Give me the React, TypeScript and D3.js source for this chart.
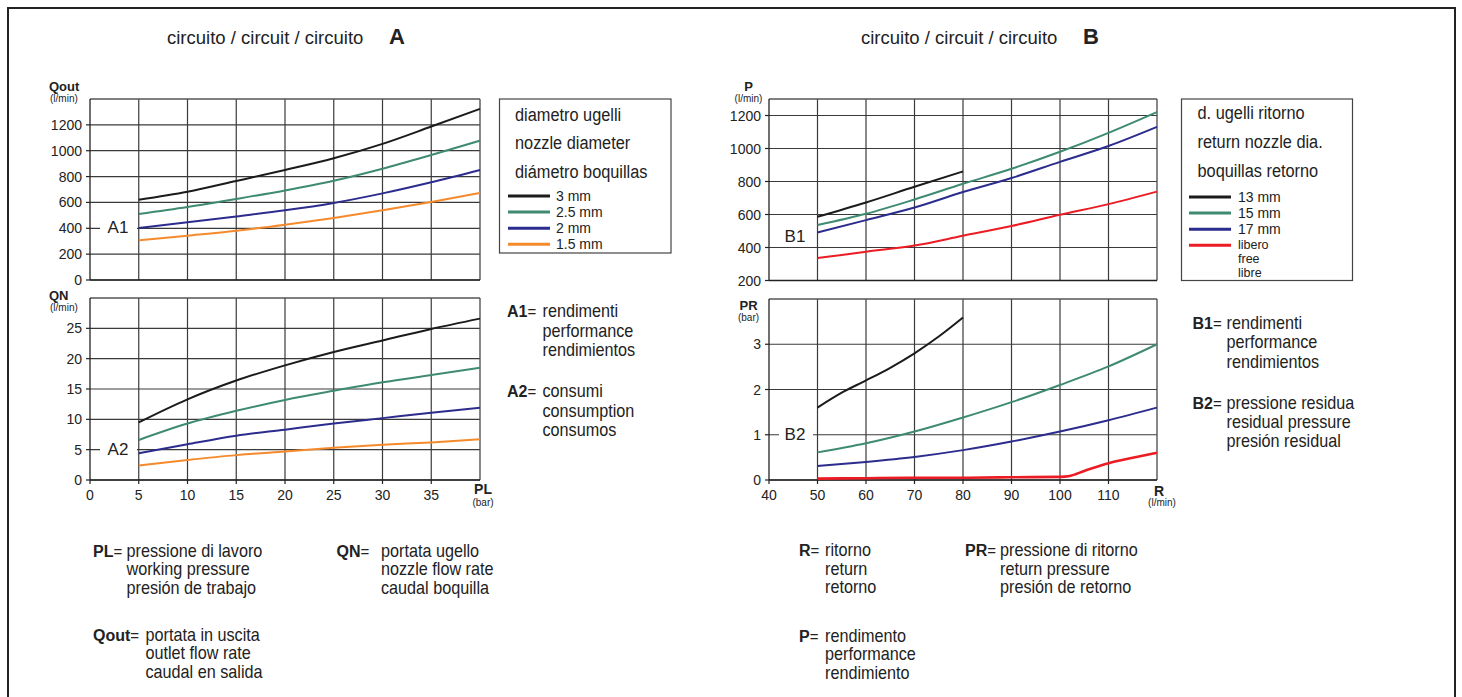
import React from "react";
import * as d3 from "d3";

// ---------- DATA ----------
const plPressure = [5, 10, 15, 20, 25, 30, 35, 40];
const qout3mm = [621, 683, 766, 851, 942, 1053, 1187, 1324];
const qout25mm = [511, 565, 627, 693, 768, 861, 967, 1078];
const qout2mm = [402, 446, 492, 539, 596, 670, 756, 851];
const qout15mm = [307, 343, 381, 428, 480, 539, 604, 673];
const qn3mm = [9.5, 13.3, 16.4, 18.9, 21.1, 23.0, 24.9, 26.6];
const qn25mm = [6.6, 9.3, 11.4, 13.2, 14.7, 16.1, 17.3, 18.5];
const qn2mm = [4.4, 5.9, 7.3, 8.3, 9.3, 10.2, 11.1, 11.9];
const qn15mm = [2.4, 3.3, 4.1, 4.7, 5.3, 5.8, 6.2, 6.7];

const returnFlow = [50, 60, 70, 80, 90, 100, 110, 120];
const returnFlow13 = [50, 60, 70, 80];
const p13mm = [586, 673, 768, 861];
const p15mm = [536, 604, 691, 786, 877, 980, 1095, 1221];
const p17mm = [491, 566, 642, 736, 821, 919, 1015, 1131];
const pFree = [336, 374, 412, 471, 530, 598, 663, 739];
const pr13Flow = [50, 55, 60, 65, 70, 75, 80];
const pr13mm = [1.6, 1.93, 2.2, 2.48, 2.8, 3.17, 3.59];
const pr15mm = [0.61, 0.81, 1.07, 1.38, 1.72, 2.1, 2.51, 3.0];
const pr17mm = [0.31, 0.4, 0.51, 0.66, 0.85, 1.07, 1.32, 1.6];
const prFreeFlow = [50, 60, 70, 80, 90, 100, 102, 105, 110, 115, 120];
const prFree = [0.03, 0.04, 0.05, 0.05, 0.06, 0.07, 0.09, 0.2, 0.37, 0.49, 0.6];

const ticksPL = [0, 5, 10, 15, 20, 25, 30, 35];
const ticksQout = [0, 200, 400, 600, 800, 1000, 1200];
const ticksQN = [0, 5, 10, 15, 20, 25];
const ticksR = [40, 50, 60, 70, 80, 90, 100, 110];
const ticksP = [200, 400, 600, 800, 1000, 1200];
const ticksPR = [0, 1, 2, 3];

const legendATitle = ["diametro ugelli", "nozzle diameter", "diámetro boquillas"];
const legendALabels = ["3 mm", "2.5 mm", "2 mm", "1.5 mm"];
const legendBTitle = ["d. ugelli ritorno", "return nozzle dia.", "boquillas retorno"];
const legendBLabels = ["13 mm", "15 mm", "17 mm", "libero"];
const legendBExtra = ["free", "libre"];

const descA1 = ["rendimenti", "performance", "rendimientos"];
const descA2 = ["consumi", "consumption", "consumos"];
const descB1 = ["rendimenti", "performance", "rendimientos"];
const descB2 = ["pressione residua", "residual pressure", "presión residual"];
const descPL = ["pressione di lavoro", "working pressure", "presión de trabajo"];
const descQN = ["portata ugello", "nozzle flow rate", "caudal boquilla"];
const descQout = ["portata in uscita", "outlet flow rate", "caudal en salida"];
const descR = ["ritorno", "return", "retorno"];
const descPR = ["pressione di ritorno", "return pressure", "presión de retorno"];
const descP = ["rendimento", "performance", "rendimiento"];

// ---------- STYLE ----------
const SANS = "'Liberation Sans', Arial, Helvetica, sans-serif";
const C_BLACK = "#1b1b1b";
const C_GREEN = "#3e8a72";
const C_BLUE = "#2b2c8e";
const C_ORANGE = "#f58a2c";
const C_RED = "#ec1c24";
const colorsA = [C_BLACK, C_GREEN, C_BLUE, C_ORANGE];
const colorsB = [C_BLACK, C_GREEN, C_BLUE, C_RED];
const GRID = "#3a3a3a";

type Series = { xs: number[]; ys: number[]; color: string; width?: number };

function NText(props: { x: number; y: number; size: number; scale?: number; children: React.ReactNode }) {
  return (
    <text
      transform={`translate(${props.x},${props.y}) scale(${props.scale || 0.9},1)`}
      fontFamily={SANS}
      fontSize={props.size}
      fill="#222"
    >
      {props.children}
    </text>
  );
}

function Panel(props: {
  x: d3.ScaleLinear<number, number>;
  y: d3.ScaleLinear<number, number>;
  xGrid: number[];
  yTicks: number[];
  xTicks?: number[];
  series: Series[];
}) {
  const { x, y, xGrid, yTicks, xTicks, series } = props;
  const [x0, x1] = x.range();
  const [y0, y1] = y.range();
  const line = (s: Series) =>
    d3
      .line<number>()
      .x((_, i) => x(s.xs[i]))
      .y((v) => y(v))
      .curve(d3.curveMonotoneX)(s.ys) || "";
  return (
    <g>
      {yTicks.map((t) => (
        <line key={"h" + t} x1={x0} x2={x1} y1={y(t)} y2={y(t)} stroke={GRID} strokeWidth={1.2} />
      ))}
      {xGrid.map((t) => (
        <line key={"v" + t} x1={x(t)} x2={x(t)} y1={y0} y2={y1} stroke={GRID} strokeWidth={1.2} />
      ))}
      <line x1={x0} x2={x1} y1={y1} y2={y1} stroke="#555" strokeWidth={1.4} />
      <line x1={x1} x2={x1} y1={y0} y2={y1} stroke="#555" strokeWidth={1.4} />
      <line x1={x0} x2={x0} y1={y0} y2={y1} stroke="#222" strokeWidth={1.3} />
      <line x1={x0} x2={x1} y1={y0} y2={y0} stroke="#222" strokeWidth={1.3} />
      {yTicks.map((t) => (
        <g key={"yt" + t}>
          <line x1={x0 - 4} x2={x0} y1={y(t)} y2={y(t)} stroke="#222" strokeWidth={1.2} />
          <text x={x0 - 8} y={y(t) + 5} textAnchor="end" fontFamily={SANS} fontSize={14} fill="#222">
            {t}
          </text>
        </g>
      ))}
      {xTicks &&
        xTicks.map((t) => (
          <g key={"xt" + t}>
            <line x1={x(t)} x2={x(t)} y1={y0} y2={y0 + 4} stroke="#222" strokeWidth={1.2} />
            <text x={x(t)} y={y0 + 19.5} textAnchor="middle" fontFamily={SANS} fontSize={14} fill="#222">
              {t}
            </text>
          </g>
        ))}
      {series.map((s, i) => (
        <path key={"s" + i} d={line(s)} fill="none" stroke={s.color} strokeWidth={s.width || 2} />
      ))}
    </g>
  );
}

function ChartTag(props: { cx: number; cy: number; x0: number; x1: number; label: string }) {
  return (
    <g>
      <rect x={props.x0} y={props.cy - 12} width={props.x1 - props.x0} height={20} fill="#fff" />
      <text x={props.cx} y={props.cy + 5} textAnchor="middle" fontFamily={SANS} fontSize={17} fill="#222">
        {props.label}
      </text>
    </g>
  );
}

function Desc(props: { px: number; tx: number; y: number; key2: string; lines: string[]; gap: number }) {
  return (
    <g>
      <text x={props.px} y={props.y} fontFamily={SANS} fontSize={16} fill="#222">
        <tspan fontWeight="bold">{props.key2}</tspan>
        <tspan fontSize={15}>=</tspan>
      </text>
      {props.lines.map((l, i) => (
        <NText key={i} x={props.tx} y={props.y + i * props.gap} size={18}>
          {l}
        </NText>
      ))}
    </g>
  );
}

export default function App() {
  // Circuit A
  const xA = d3.scaleLinear().domain([0, 40]).range([90, 480]);
  const yA1 = d3.scaleLinear().domain([0, 1400]).range([280, 99]);
  const yA2 = d3.scaleLinear().domain([0, 30]).range([480, 298]);
  // Circuit B
  const xB = d3.scaleLinear().domain([40, 120]).range([769, 1157]);
  const yB1 = d3.scaleLinear().domain([200, 1300]).range([280.5, 99]);
  const yB2 = d3.scaleLinear().domain([0, 4]).range([480, 299]);

  const gridA = [5, 10, 15, 20, 25, 30, 35];
  const gridB = [50, 60, 70, 80, 90, 100, 110];

  const seriesA1: Series[] = [qout3mm, qout25mm, qout2mm, qout15mm].map((ys, i) => ({ xs: plPressure, ys, color: colorsA[i] }));
  const seriesA2: Series[] = [qn3mm, qn25mm, qn2mm, qn15mm].map((ys, i) => ({ xs: plPressure, ys, color: colorsA[i] }));
  const seriesB1: Series[] = [
    { xs: returnFlow13, ys: p13mm, color: C_BLACK },
    { xs: returnFlow, ys: p15mm, color: C_GREEN },
    { xs: returnFlow, ys: p17mm, color: C_BLUE },
    { xs: returnFlow, ys: pFree, color: C_RED },
  ];
  const seriesB2: Series[] = [
    { xs: pr13Flow, ys: pr13mm, color: C_BLACK },
    { xs: returnFlow, ys: pr15mm, color: C_GREEN },
    { xs: returnFlow, ys: pr17mm, color: C_BLUE },
    { xs: prFreeFlow, ys: prFree, color: C_RED, width: 2.6 },
  ];

  return (
    <svg
      width={1462}
      height={697}
      style={{ position: "absolute", left: 0, top: 0, background: "#fff" }}
      xmlns="http://www.w3.org/2000/svg"
    >
      <rect x={0} y={0} width={1462} height={697} fill="#fff" />
      <rect x={8} y={8} width={1447} height={700} fill="none" stroke="#222" strokeWidth={2} />

      {/* Titles */}
      <text x={167} y={44} fontFamily={SANS} fontSize={18.5} fill="#222">circuito / circuit / circuito</text>
      <text x={389} y={44} fontFamily={SANS} fontSize={22} fontWeight="bold" fill="#222">A</text>
      <text x={861} y={44} fontFamily={SANS} fontSize={18.5} fill="#222">circuito / circuit / circuito</text>
      <text x={1083} y={44} fontFamily={SANS} fontSize={22} fontWeight="bold" fill="#222">B</text>

      {/* Circuit A charts */}
      <Panel x={xA} y={yA1} xGrid={gridA} yTicks={ticksQout} series={seriesA1} />
      <Panel x={xA} y={yA2} xGrid={gridA} yTicks={ticksQN} xTicks={ticksPL} series={seriesA2} />
      <ChartTag cx={118} cy={yA1(400)} x0={100} x1={137} label="A1" />
      <ChartTag cx={118} cy={yA2(5)} x0={100} x1={137} label="A2" />

      <text x={49} y={91} fontFamily={SANS} fontSize={13} fontWeight="bold" fill="#222">Qout</text>
      <text x={50} y={102} fontFamily={SANS} fontSize={10} fill="#222">(l/min)</text>
      <text x={49} y={300} fontFamily={SANS} fontSize={13} fontWeight="bold" fill="#222">QN</text>
      <text x={50} y={311} fontFamily={SANS} fontSize={10} fill="#222">(l/min)</text>
      <text x={483} y={494} textAnchor="middle" fontFamily={SANS} fontSize={14} fontWeight="bold" fill="#222">PL</text>
      <text x={483} y={506} textAnchor="middle" fontFamily={SANS} fontSize={10} fill="#222">(bar)</text>

      {/* Circuit B charts */}
      <Panel x={xB} y={yB1} xGrid={gridB} yTicks={ticksP} series={seriesB1} />
      <Panel x={xB} y={yB2} xGrid={gridB} yTicks={ticksPR} xTicks={ticksR} series={seriesB2} />
      <text x={795} y={242} textAnchor="middle" fontFamily={SANS} fontSize={17} fill="#222">B1</text>
      <ChartTag cx={795} cy={yB2(1)} x0={779} x1={813} label="B2" />

      <text x={748.5} y={91} textAnchor="middle" fontFamily={SANS} fontSize={13} fontWeight="bold" fill="#222">P</text>
      <text x={748.5} y={102} textAnchor="middle" fontFamily={SANS} fontSize={10} fill="#222">(l/min)</text>
      <text x={748.5} y={310} textAnchor="middle" fontFamily={SANS} fontSize={13} fontWeight="bold" fill="#222">PR</text>
      <text x={748.5} y={321} textAnchor="middle" fontFamily={SANS} fontSize={10} fill="#222">(bar)</text>
      <text x={1159} y={496} textAnchor="middle" fontFamily={SANS} fontSize={14} fontWeight="bold" fill="#222">R</text>
      <text x={1162} y={506} textAnchor="middle" fontFamily={SANS} fontSize={10} fill="#222">(l/min)</text>

      {/* Legend A */}
      <rect x={499.5} y={99} width={171.5} height={154} fill="#fff" stroke="#444" strokeWidth={1.2} />
      {legendATitle.map((t, i) => (
        <NText key={t} x={515} y={121 + i * 28.3} size={19} scale={0.86}>{t}</NText>
      ))}
      {legendALabels.map((t, i) => (
        <g key={t}>
          <line x1={508} x2={550} y1={196 + i * 16.1} y2={196 + i * 16.1} stroke={colorsA[i]} strokeWidth={3} />
          <text x={556} y={201 + i * 16.1} fontFamily={SANS} fontSize={14} fill="#222">{t}</text>
        </g>
      ))}

      {/* Legend B */}
      <rect x={1181.5} y={99} width={171} height={181.5} fill="#fff" stroke="#444" strokeWidth={1.2} />
      {legendBTitle.map((t, i) => (
        <NText key={t} x={1197.5} y={119 + i * 28.8} size={19} scale={0.86}>{t}</NText>
      ))}
      {legendBLabels.map((t, i) => (
        <g key={t}>
          <line x1={1189} x2={1231} y1={197 + i * 16.1} y2={197 + i * 16.1} stroke={colorsB[i]} strokeWidth={3} />
          <text x={1238} y={i < 3 ? 202 + i * 16.1 : 249} fontFamily={SANS} fontSize={i < 3 ? 14 : 12.5} fill="#222">{t}</text>
        </g>
      ))}
      {legendBExtra.map((t, i) => (
        <text key={t} x={1238} y={263.3 + i * 14} fontFamily={SANS} fontSize={12.5} fill="#222">{t}</text>
      ))}

      {/* Descriptions */}
      <Desc px={507} tx={542.5} y={317} key2="A1" lines={descA1} gap={19.7} />
      <Desc px={507} tx={542.5} y={397} key2="A2" lines={descA2} gap={19.7} />
      <Desc px={1192.5} tx={1226.5} y={328.5} key2="B1" lines={descB1} gap={19.5} />
      <Desc px={1192.5} tx={1226.5} y={408.5} key2="B2" lines={descB2} gap={19.2} />

      <Desc px={93} tx={126.5} y={556.5} key2="PL" lines={descPL} gap={18.5} />
      <Desc px={336.5} tx={381} y={556.5} key2="QN" lines={descQN} gap={18.5} />
      <Desc px={93} tx={145.5} y={640.5} key2="Qout" lines={descQout} gap={18.5} />

      <Desc px={799} tx={825} y={556} key2="R" lines={descR} gap={18.6} />
      <Desc px={965} tx={1000} y={556} key2="PR" lines={descPR} gap={18.6} />
      <Desc px={799} tx={825} y={641.5} key2="P" lines={descP} gap={18.5} />
    </svg>
  );
}
